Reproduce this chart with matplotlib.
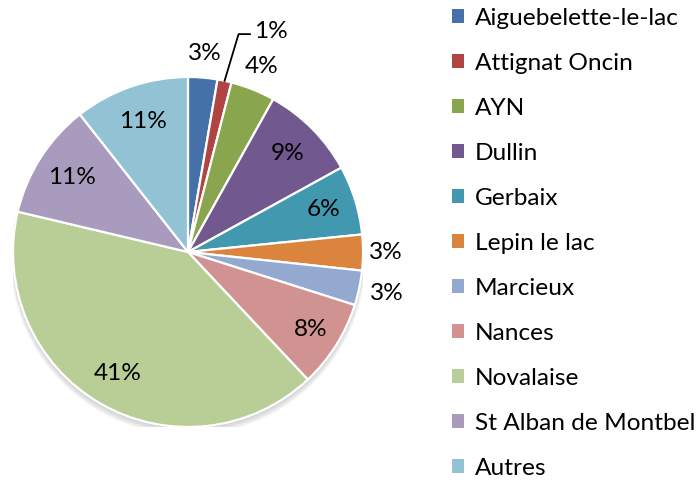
import numpy as np
import matplotlib
matplotlib.use("Agg")
import matplotlib.pyplot as plt
from matplotlib.patches import Patch, Circle

communes = ["Aiguebelette-le-lac", "Attignat Oncin", "AYN", "Dullin", "Gerbaix",
            "Lepin le lac", "Marcieux", "Nances", "Novalaise",
            "St Alban de Montbel", "Autres"]
parts = [2.7, 1.3, 4.1, 8.9, 6.4, 3.3, 3.2, 8.1, 40.7, 10.7, 10.6]
colours = ["#4571A9", "#AF4442", "#89A54E", "#71588F", "#4198AF", "#DB843D",
           "#93A9CF", "#D19392", "#B9CD96", "#A99BBD", "#92C3D5"]
# radial position of each data label (None -> label with leader line)
label_r = [1.14, None, 1.14, 0.80, 0.81, 1.13, 1.16, 0.83, 0.80, 0.79, 0.79]

plt.rcParams['font.family'] = ['Lato', 'DejaVu Sans']
FS = 17.6

W, H = 698, 483
fig = plt.figure(figsize=(W / 100, H / 100), dpi=100)
cx, cy, R = 188, 252, 175
ax = fig.add_axes([(cx - R) / W, (H - cy - R) / H, 2 * R / W, 2 * R / H])

# soft shadow under the pie
for k in range(6):
    ax.add_patch(Circle((0, -0.012 - 0.004 * k), 1.0 + 0.003 * k,
                        color="0.55", alpha=0.07, lw=0, zorder=0))

wedges, _ = ax.pie(parts, colors=colours, startangle=90, counterclock=False,
                   radius=1.0, wedgeprops=dict(edgecolor="white", linewidth=1.6))
for w in wedges:
    w.set_zorder(2)

total = sum(parts)
for w, v, r in zip(wedges, parts, label_r):
    ang = np.deg2rad((w.theta1 + w.theta2) / 2)
    txt = "%d%%" % round(v / total * 100)
    if r is None:
        x0, y0 = np.cos(ang), np.sin(ang)
        ex, ey = x0 + 0.08, 1.245
        ax.plot([x0, ex, ex + 0.065], [y0, ey, ey], color="black", lw=1.3,
                zorder=3, clip_on=False)
        ax.text(ex + 0.09, ey + 0.015, txt, ha="left", va="center", fontsize=FS,
                zorder=3)
    else:
        ax.text(r * np.cos(ang), r * np.sin(ang), txt, ha="center", va="center",
                fontsize=FS, zorder=3)

ax.set_xlim(-1, 1)
ax.set_ylim(-1, 1)
ax.set_aspect("equal")
ax.axis("off")

handles = [Patch(facecolor=c, edgecolor="none") for c in colours]
fig.legend(handles, communes, loc="upper left", bbox_to_anchor=(452 / W, 1 - 8 / H),
           frameon=False, fontsize=FS, handlelength=0.5, handleheight=0.5,
           handletextpad=0.45, labelspacing=0.98, borderpad=0, borderaxespad=0)

fig.savefig("out.png", dpi=100)
